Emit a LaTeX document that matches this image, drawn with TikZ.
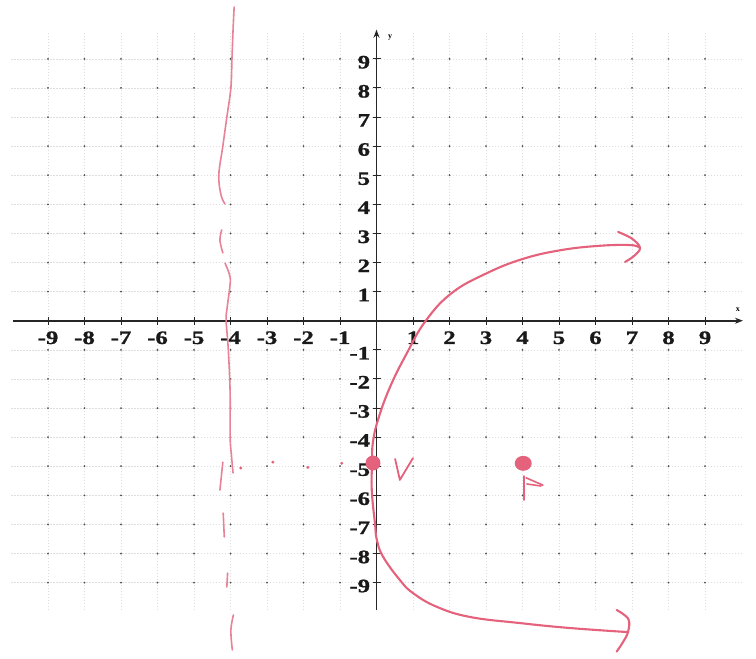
\documentclass[tikz,border=0pt]{standalone}
\usepackage{fontspec}
\setmainfont{Liberation Serif}
\newfontfamily\lblfont[FakeBold=1.0]{Liberation Serif}
\usetikzlibrary{arrows.meta}
\definecolor{penred}{RGB}{228,98,124}
\definecolor{penlight}{RGB}{232,130,150}
\begin{document}
\begin{tikzpicture}[x=36.5pt,y=29.1pt,
  gridline/.style={black!13, line width=0.4pt, dash pattern=on 1.5pt off 1.5pt},
  axisline/.style={black!85, line width=1.7pt},
  tickmark/.style={black!85, line width=0.9pt},
  gdot/.style={black!70},
  tickl/.style={font=\lblfont\bfseries\fontsize{19}{19}\selectfont, xscale=1.3, inner sep=0pt, text=black!90},
  axl/.style={font=\bfseries\fontsize{8}{8}\selectfont, inner sep=0pt},
  pen/.style={draw=penred, line width=2.1pt, line cap=round, line join=round},
  dirpen/.style={draw=penlight, line width=1.6pt, line cap=round, line join=round},
  ]
\useasboundingbox (-10.315,-11.591) rectangle (10.397,11.021);
\fill[white] (-10.315,-11.591) rectangle (10.397,11.021);
% grid
\foreach \i in {-9,...,-1,1,2,...,9} {
  \draw[gridline] (\i,-9.95) -- (\i,9.9);
  \draw[gridline] (-10,\i) -- (10,\i);
}
\foreach \i in {-9,...,9} {
  \foreach \j in {-9,...,9} {
    \fill[gdot] (\i,\j) circle (1pt);
  }
}
% axes
\coordinate (xs) at (-9.95,0);
\coordinate (xe) at (10.04,0);
\coordinate (ys) at (0,-9.95);
\coordinate (ye) at (0,10);
\draw[axisline,-{Stealth[length=8pt,width=6pt]}] (xs) -- (xe);
\draw[axisline,-{Stealth[length=8pt,width=6pt]}] (ys) -- (ye);
\node[axl] (xlab) at (9.9,0.37) {x};
\node[axl] (ylab) at (0.37,9.72) {y};
\foreach \i in {-9,...,-1,1,2,...,9} {
  \draw[tickmark] (\i,0) ++(0,-4pt) -- ++(0,8pt);
  \draw[tickmark] (0,\i) ++(-4pt,0) -- ++(8pt,0);
  \node[tickl, anchor=base] (xl\i) at (\i,-0.8) {\i};
  \node[tickl, anchor=base east] (yl\i) at (-0.17,\i-0.33) {\i};
}
% directrix (hand drawn)
\draw[dirpen] plot[smooth,tension=0.6] coordinates {(-3.90,10.78) (-3.93,9.99) (-3.96,8.99) (-3.99,8.0) (-4.10,7.0) (-4.21,6.0) (-4.32,5.01) (-4.26,4.32) (-4.15,4.01)};
\draw[dirpen] plot[smooth,tension=0.6] coordinates {(-4.24,3.12) (-4.29,2.77) (-4.21,2.33)};
\draw[dirpen] plot[smooth,tension=0.6] coordinates {(-4.15,1.98) (-4.01,1.50) (-4.03,1.05) (-4.10,0.37) (-4.12,0) (-4.06,-1.0) (-4.01,-2.48) (-4.01,-3.99) (-3.97,-4.68) (-3.93,-5.23)};
\draw[dirpen] (-4.21,-4.86) -- (-4.29,-5.82);
\draw[dirpen] (-4.20,-6.61) -- (-4.17,-7.43);
\draw[dirpen] (-4.08,-8.67) -- (-4.10,-9.15);
\draw[dirpen] plot[smooth,tension=0.6] coordinates {(-3.92,-10.11) (-3.99,-10.63) (-3.95,-11.31)};
% dotted line from directrix to vertex
\foreach \p in {(-3.72,-5.06),(-2.84,-4.86),(-1.88,-5.04),(-0.95,-4.90)} {
  \fill[penred] \p circle (1.6pt);
}
% parabola
\draw[pen] plot[smooth,tension=0.7] coordinates {(7.22,2.50) (6.95,2.60) (6.06,2.57) (5.03,2.42) (4.0,2.12) (3.0,1.62) (2.06,0.95) (1.35,0) (0.83,-1.12) (0.37,-2.28) (0.04,-3.41) (-0.10,-4.20) (-0.12,-4.87) (-0.13,-5.82) (-0.04,-6.99) (0.01,-7.53) (0.18,-8.11) (0.64,-8.91) (1.0,-9.36) (1.65,-9.83) (2.56,-10.18) (3.93,-10.39) (5.30,-10.56) (6.89,-10.70)};
% arrow heads (hand drawn)
\draw[pen] plot[smooth,tension=0.6] coordinates {(6.62,3.05) (7.0,2.82) (7.22,2.50) (7.05,2.22) (6.81,2.02)};
\draw[pen] plot[smooth,tension=0.6] coordinates {(6.58,-9.94) (6.90,-10.25) (6.89,-10.70) (6.75,-11.05) (6.58,-11.37)};
% vertex and focus
\coordinate (V) at (-0.096,-4.89);
\coordinate (F) at (4.02,-4.90);
\fill[penred] (V) circle (7.5pt);
\fill[penred] (F) ellipse (8.5pt and 7.5pt);
% V letter
\draw[pen, line width=1.8pt] (0.51,-4.75) -- (0.64,-5.47) -- (1.0,-4.72);
% F letter
\draw[pen, line width=1.8pt] (4.04,-5.34) -- (4.04,-6.16);
\draw[pen, line width=1.6pt] (4.10,-5.40) -- (4.56,-5.65);
\draw[pen, line width=1.6pt] (4.12,-5.61) -- (4.51,-5.68);
\end{tikzpicture}
\end{document}
